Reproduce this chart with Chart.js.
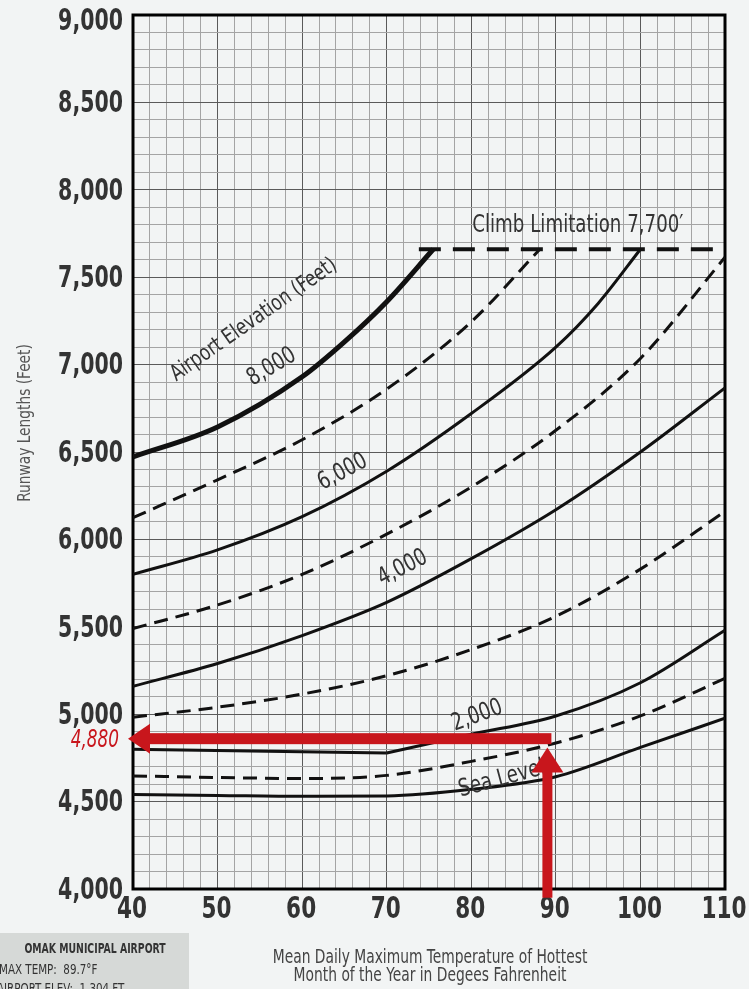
<!DOCTYPE html>
<html>
<head>
<meta charset="utf-8">
<script src="https://cdn.jsdelivr.net/npm/chart.js@4.4.1/dist/chart.umd.min.js"></script>
<style>
  html, body { margin: 0; padding: 0; background: #f2f4f4; }
  canvas { display: block; }
</style>
</head>
<body>
<canvas id="runwayChart" width="749" height="989"></canvas>
<script>
// temperature (deg F) and runway length (ft)
const temps = [40, 50, 60, 70, 80, 90, 100, 110];
const seaLevel = [4540, 4535, 4530, 4532, 4570, 4642, 4810, 4977];
const elev1000 = [4647, 4638, 4632, 4650, 4730, 4835, 4990, 5205];
const elev3000 = [4983, 5040, 5115, 5220, 5370, 5560, 5830, 6160];
const elev4000 = [5160, 5290, 5450, 5640, 5890, 6170, 6500, 6867];
const elev5000 = [5490, 5625, 5800, 6030, 6300, 6624, 7035, 7614];

// 2,000 ft is flat up to 70 then bends up
const temps2000Flat = [40, 70];
const elev2000Flat = [4800, 4778];
const temps2000 = [70, 80, 90, 100, 110];
const elev2000 = [4778, 4885, 4990, 5180, 5480];

// these stop at the climb limitation
const temps6000 = [40, 50, 60, 70, 80, 90, 95, 100];
const elev6000 = [5800, 5940, 6130, 6390, 6720, 7100, 7350, 7660];
const temps7000 = [40, 50, 60, 70, 80, 88.1];
const elev7000 = [6124, 6341, 6570, 6860, 7245, 7660];
const temps8000 = [40, 50, 60, 65, 70, 75.5];
const elev8000 = [6472, 6643, 6930, 7130, 7360, 7660];

const climbTemps = [73.8, 110];
const climbElev = [7660, 7660];

// axis labels
const xTickLabels = [40, 50, 60, 70, 80, 90, 100, 110];
const yTickLabels = [4000, 4500, 5000, 5500, 6000, 6500, 7000, 7500, 8000, 8500, 9000];

// Omak example reading
const readTemp = 89;
const readTip = 4810;
const readLength = 4860;

const FONT = "'DejaVu Sans Condensed', 'Liberation Sans Narrow', sans-serif";
const INK = '#333';

const pts = (xs, ys) => xs.map((x, i) => ({ x: x, y: ys[i] }));

function curve(xs, ys, dashed, width) {
    return {
        data: pts(xs, ys),
        borderColor: '#111',
        borderWidth: width || 3,
        borderDash: dashed ? [14, 8] : [],
        borderCapStyle: 'butt',
        pointRadius: 0,
        cubicInterpolationMode: 'monotone',
        fill: false
    };
}

// text squeezed horizontally to look like the condensed face of the original
function txt(ctx, text, x, y, deg, font, color, squeeze, align) {
    ctx.save();
    ctx.translate(x, y);
    ctx.rotate(deg * Math.PI / 180);
    ctx.scale(squeeze || 1, 1);
    ctx.font = font;
    ctx.fillStyle = color;
    ctx.textAlign = align || 'center';
    ctx.textBaseline = 'middle';
    ctx.fillText(text, 0, 0);
    ctx.restore();
}

const decor = {
    id: 'decor',
    beforeDraw(chart) {
        const ctx = chart.ctx;
        ctx.save();
        ctx.fillStyle = '#f2f4f4';
        ctx.fillRect(0, 0, chart.width, chart.height);
        ctx.fillStyle = '#d6d9d7';
        ctx.fillRect(0, 933, 189, 56);
        ctx.restore();
    },
    beforeDatasetsDraw(chart) {
        const ctx = chart.ctx, a = chart.chartArea;
        ctx.save();
        ctx.strokeStyle = '#000';
        ctx.lineWidth = 3;
        ctx.strokeRect(a.left, a.top, a.right - a.left, a.bottom - a.top);
        ctx.restore();
    },
    afterDatasetsDraw(chart) {
        const ctx = chart.ctx, a = chart.chartArea;
        const sx = chart.scales.x, sy = chart.scales.y;
        const P = (x, y) => [sx.getPixelForValue(x), sy.getPixelForValue(y)];

        // tick labels
        const tickFont = 'bold 30px ' + FONT;
        yTickLabels.forEach(v => {
            const y = Math.max(sy.getPixelForValue(v) + 2, 22);
            txt(ctx, v.toLocaleString('en-US'), 123, y, 0, tickFont, INK, 0.76, 'right');
        });
        xTickLabels.forEach(v => {
            txt(ctx, String(v), sx.getPixelForValue(v) - 1, 910, 0, tickFont, INK, 0.8);
        });

        // curve labels
        let p;
        p = P(54.3, 7255); txt(ctx, 'Airport Elevation (Feet)', p[0], p[1], -35, '22px ' + FONT, INK, 0.86);
        p = P(56.4, 6986); txt(ctx, '8,000', p[0], p[1], -31, '24px ' + FONT, INK, 0.85);
        p = P(64.8, 6385); txt(ctx, '6,000', p[0], p[1], -28, '24px ' + FONT, INK, 0.85);
        p = P(71.9, 5836); txt(ctx, '4,000', p[0], p[1], -27, '24px ' + FONT, INK, 0.85);
        p = P(80.7, 4990); txt(ctx, '2,000', p[0], p[1], -20, '24px ' + FONT, INK, 0.85);
        p = P(83.6, 4629); txt(ctx, 'Sea Level', p[0], p[1], -15, '24px ' + FONT, INK, 0.85);
        p = P(92.6, 7798); txt(ctx, 'Climb Limitation 7,700\u2032', p[0], p[1], 0, '25px ' + FONT, INK, 0.81);

        // red reading arrows
        const red = '#c8161c';
        const ax = sx.getPixelForValue(readTemp);
        const ay = sy.getPixelForValue(readLength);
        const tipY = sy.getPixelForValue(readTip);
        const botY = sy.getPixelForValue(3950);
        const tipX = a.left - 5;
        ctx.save();
        ctx.fillStyle = red;
        ctx.fillRect(tipX + 20, ay - 5.5, ax + 4 - (tipX + 20), 11);
        ctx.beginPath();
        ctx.moveTo(tipX, ay);
        ctx.lineTo(tipX + 22, ay - 15);
        ctx.lineTo(tipX + 22, ay + 15);
        ctx.closePath();
        ctx.fill();
        ctx.fillRect(ax - 5, tipY + 22, 10, botY - (tipY + 22));
        ctx.beginPath();
        ctx.moveTo(ax, tipY);
        ctx.lineTo(ax - 16, tipY + 25);
        ctx.lineTo(ax + 16, tipY + 25);
        ctx.closePath();
        ctx.fill();
        ctx.restore();
        txt(ctx, '4,880', 119, ay + 2, 0, 'italic 25px ' + FONT, red, 0.75, 'right');

        // axis titles
        txt(ctx, 'Runway Lengths (Feet)', 26, 423, -90, '17px ' + FONT, '#555', 0.9);
        txt(ctx, 'Mean Daily Maximum Temperature of Hottest', 430, 958, 0, '19px ' + FONT, '#444', 0.81);
        txt(ctx, 'Month of the Year in Degees Fahrenheit', 430, 976, 0, '19px ' + FONT, '#444', 0.81);

        // info box
        txt(ctx, 'OMAK MUNICIPAL AIRPORT', 95, 949, 0, 'bold 14px ' + FONT, INK, 0.74);
        txt(ctx, 'MAX TEMP:  89.7\u00B0F', -1, 970, 0, '14px ' + FONT, INK, 0.82, 'left');
        txt(ctx, 'AIRPORT ELEV:  1,304 FT', -3, 989, 0, '14px ' + FONT, INK, 0.82, 'left');
    }
};

const gridColor = (c, step) => (c.tick && c.tick.value % step === 0) ? '#5a5a5a' : '#a4a4a4';
const noPad = s => { s.paddingTop = 0; s.paddingBottom = 0; s.paddingLeft = 0; s.paddingRight = 0; };

new Chart(document.getElementById('runwayChart'), {
    type: 'line',
    data: {
        datasets: [
            curve(temps, seaLevel, false),
            curve(temps, elev1000, true),
            curve(temps2000Flat, elev2000Flat, false),
            curve(temps2000, elev2000, false),
            curve(temps, elev3000, true),
            curve(temps, elev4000, false),
            curve(temps, elev5000, true),
            curve(temps6000, elev6000, false),
            curve(temps7000, elev7000, true),
            curve(temps8000, elev8000, false, 5),
            Object.assign(curve(climbTemps, climbElev, true, 4), { borderDash: [22, 12] })
        ]
    },
    options: {
        responsive: false,
        animation: false,
        devicePixelRatio: 1,
        layout: { padding: { top: 15, right: 24, left: 0, bottom: 0 } },
        plugins: { legend: { display: false }, tooltip: { enabled: false } },
        scales: {
            x: {
                type: 'linear',
                min: 40,
                max: 110,
                afterFit: s => { s.height = 100; noPad(s); },
                ticks: { display: false, stepSize: 2, autoSkip: false },
                grid: { color: c => gridColor(c, 10), lineWidth: 1, drawTicks: false },
                border: { display: false }
            },
            y: {
                min: 4000,
                max: 9000,
                afterFit: s => { s.width = 133; noPad(s); },
                ticks: { display: false, stepSize: 100, autoSkip: false },
                grid: { color: c => gridColor(c, 500), lineWidth: 1, drawTicks: false },
                border: { display: false }
            }
        }
    },
    plugins: [decor]
});
</script>
</body>
</html>
